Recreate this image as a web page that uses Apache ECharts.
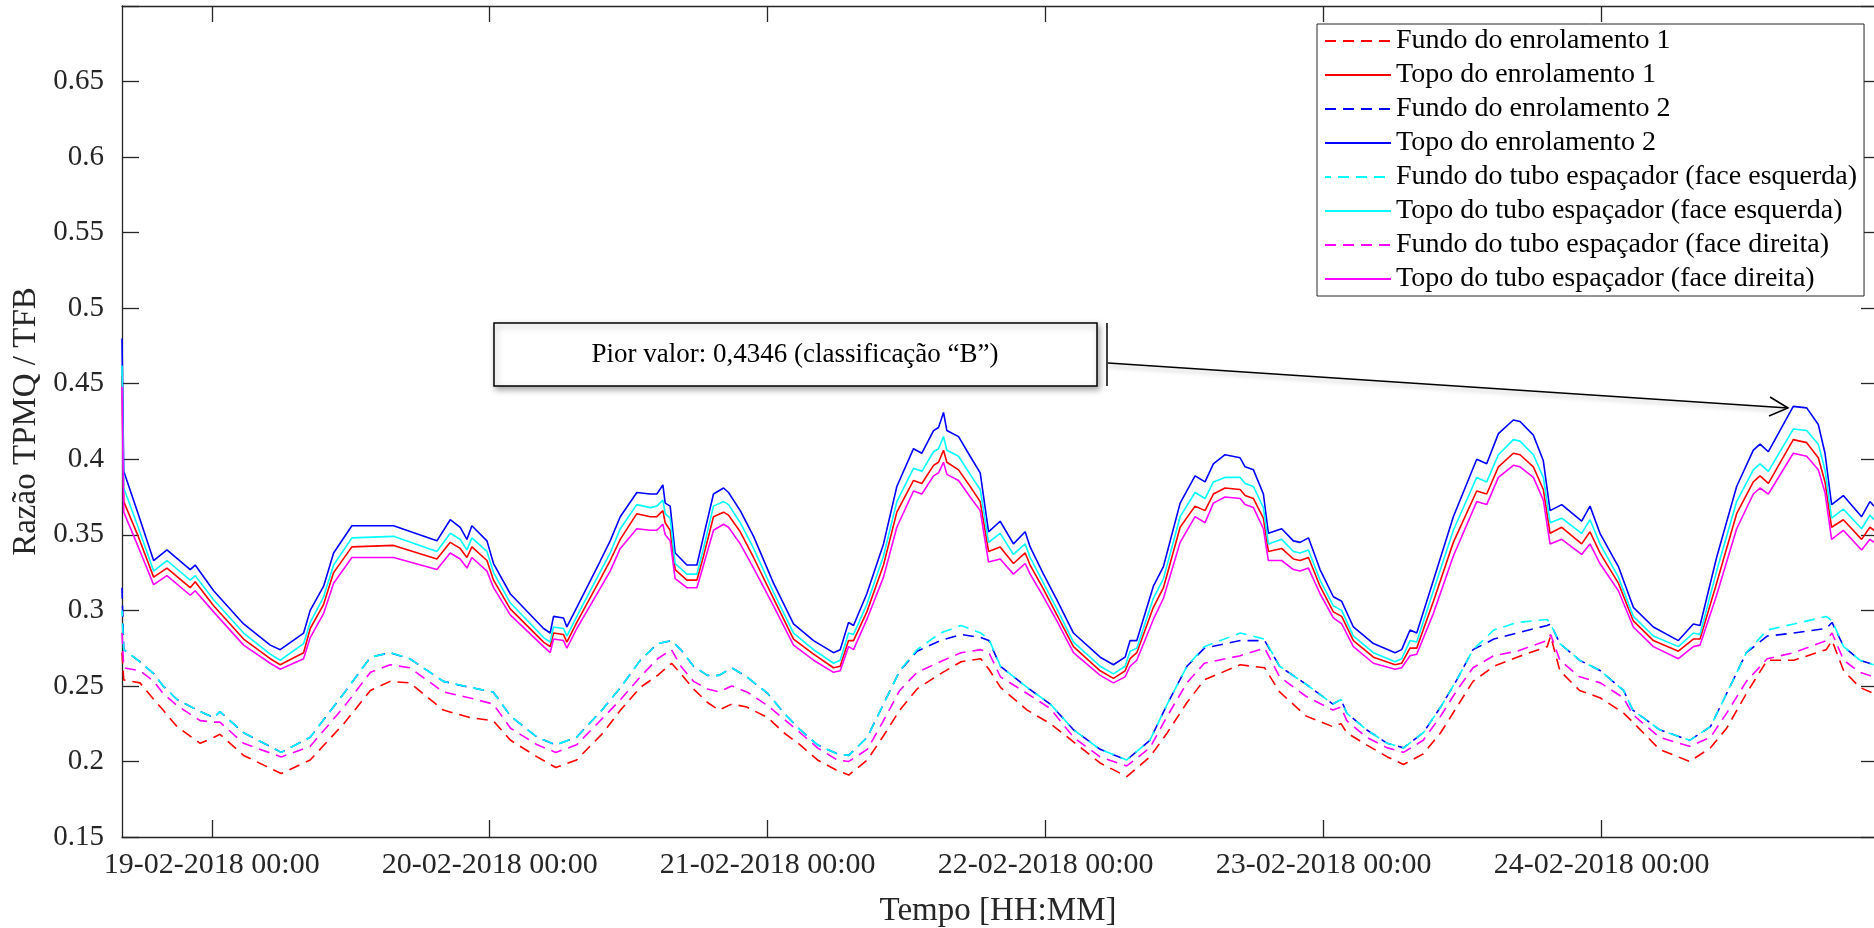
<!DOCTYPE html>
<html><head><meta charset="utf-8">
<script src="https://cdn.jsdelivr.net/npm/echarts@6/dist/echarts.min.js"></script>
<style>html,body{margin:0;padding:0;background:#fff}#c{width:1874px;height:928px}</style>
</head><body><div id="c"></div>
<script>
// ---- data (x in hours from 19-02-2018 00:00) ----
const tickHours = [0, 24, 48, 72, 96, 120];
const tickLabels = ['19-02-2018 00:00','20-02-2018 00:00','21-02-2018 00:00','22-02-2018 00:00','23-02-2018 00:00','24-02-2018 00:00'];
const seriesNames = ['Fundo do enrolamento 1','Topo do enrolamento 1','Fundo do enrolamento 2','Topo do enrolamento 2','Fundo do tubo espaçador (face esquerda)','Topo do tubo espaçador (face esquerda)','Fundo do tubo espaçador (face direita)','Topo do tubo espaçador (face direita)'];

const solidHours = [-7.75,-7.6,-6.4,-5.02,-3.87,-1.86,-1.43,0.16,2.75,5.05,5.91,7.93,8.5,9.66,10.52,12.1,15.7,19.44,20.59,21.45,22.03,22.46,23.76,24.33,25.77,28.65,29.22,29.51,30.37,30.66,31.52,33.5,34.4,35.27,36.7,37.86,38.43,38.95,39.15,39.58,40.01,41.02,41.89,42.46,43.32,44.19,44.62,45.63,46.78,48.5,50.23,51.96,53.68,54.26,54.98,55.41,56.56,58,59.15,60.59,61.31,62.32,62.75,63.18,63.47,64.48,65.48,66.35,67.07,68.07,69.22,70.23,70.66,71.81,72.97,74.4,76.71,77.85,78.86,79.29,79.87,81.3,82.17,83.61,84.9,85.76,86.48,87.49,88.79,89.22,89.94,90.8,91.23,92.38,93.39,93.97,94.69,95.69,96.84,97.56,98.57,100.3,102.17,102.74,103.46,104.04,105.48,107.2,109.22,110.08,111.09,112.38,112.96,114.11,114.97,115.55,116.56,118.28,119,119.86,121.45,122.74,124.47,126.63,127.92,128.5,129.93,131.66,133.1,133.68,134.4,136.55,137.71,138.71,139.29,139.86,140.87,142.45,143.17,143.52];

const topoEnrol2 = [.480,.392,.365,.333,.340,.327,.330,.313,.291,.277,.274,.285,.300,.316,.338,.356,.356,.346,.360,.355,.347,.356,.346,.331,.311,.288,.285,.296,.295,.289,.302,.332,.346,.362,.378,.377,.377,.383,.371,.369,.338,.330,.330,.349,.377,.381,.378,.366,.349,.318,.291,.280,.272,.274,.292,.290,.311,.344,.382,.407,.404,.419,.421,.431,.419,.415,.402,.391,.352,.359,.344,.352,.342,.324,.307,.285,.269,.264,.269,.280,.280,.316,.329,.371,.389,.385,.397,.403,.401,.395,.393,.377,.351,.354,.346,.345,.348,.327,.309,.306,.289,.278,.272,.274,.287,.285,.320,.362,.400,.397,.417,.426,.425,.416,.399,.366,.370,.359,.369,.351,.329,.302,.289,.280,.291,.290,.335,.382,.406,.410,.405,.435,.434,.423,.404,.370,.376,.362,.372,.369];
const topoTuboEsq = [.462,.381,.356,.326,.333,.320,.323,.307,.285,.271,.267,.278,.292,.309,.330,.348,.349,.339,.351,.347,.340,.348,.339,.325,.305,.282,.279,.289,.288,.283,.296,.325,.338,.354,.370,.368,.369,.373,.364,.361,.331,.324,.324,.341,.369,.372,.370,.358,.341,.312,.285,.274,.265,.267,.285,.284,.304,.336,.372,.394,.392,.405,.407,.415,.406,.402,.390,.380,.345,.351,.337,.344,.335,.318,.301,.279,.263,.258,.263,.273,.275,.308,.321,.362,.378,.374,.385,.388,.388,.384,.382,.368,.344,.347,.339,.338,.340,.320,.303,.300,.283,.272,.266,.268,.280,.279,.313,.353,.388,.385,.403,.413,.412,.403,.388,.358,.361,.351,.360,.344,.322,.296,.283,.276,.285,.284,.326,.372,.393,.397,.392,.420,.419,.410,.393,.361,.367,.354,.363,.360];
const topoEnrol1 = [.455,.372,.350,.322,.328,.315,.319,.303,.281,.268,.264,.272,.288,.304,.325,.342,.343,.334,.345,.341,.335,.342,.333,.320,.301,.279,.276,.285,.284,.279,.292,.320,.333,.347,.364,.362,.362,.366,.358,.353,.327,.320,.320,.336,.362,.365,.363,.352,.335,.308,.281,.271,.262,.263,.280,.280,.299,.330,.365,.386,.384,.396,.398,.406,.398,.393,.382,.372,.339,.342,.331,.338,.330,.314,.297,.276,.260,.255,.260,.268,.272,.302,.315,.355,.369,.366,.377,.381,.380,.376,.374,.361,.339,.341,.334,.333,.335,.316,.299,.296,.280,.269,.264,.265,.275,.275,.306,.345,.379,.377,.395,.404,.403,.395,.380,.351,.355,.344,.352,.338,.318,.293,.280,.273,.281,.281,.318,.364,.385,.389,.384,.413,.411,.401,.385,.355,.360,.347,.355,.353];
const topoTuboDir = [.448,.365,.343,.317,.323,.310,.313,.299,.277,.265,.261,.268,.282,.298,.318,.335,.335,.327,.338,.334,.328,.335,.326,.315,.297,.276,.272,.281,.280,.275,.288,.314,.326,.341,.354,.353,.353,.357,.350,.346,.321,.315,.315,.330,.353,.357,.355,.344,.328,.303,.277,.267,.259,.260,.276,.274,.294,.322,.355,.379,.377,.389,.391,.398,.390,.386,.375,.366,.332,.334,.324,.331,.324,.309,.293,.272,.257,.252,.256,.263,.267,.294,.308,.345,.362,.358,.371,.375,.374,.370,.368,.354,.333,.333,.327,.326,.328,.311,.295,.291,.276,.265,.261,.262,.270,.271,.298,.336,.372,.370,.388,.396,.395,.388,.373,.344,.347,.337,.344,.331,.313,.289,.276,.268,.276,.277,.310,.354,.377,.381,.377,.404,.402,.393,.378,.347,.353,.340,.347,.345];

const dashedHours = [-7.75,-7.6,-6.2,-5,-4.2,-3,-1,0.2,0.7,2.75,6,8.5,11.4,13.7,15.4,17.1,20,22.3,24.3,25.8,28.1,29.7,31.5,33.8,35.3,37,38.5,39.7,40.5,41.6,42.8,43.8,44.9,46.2,48,49.4,50.8,52.3,54,55,56.6,58,59.4,60.9,62.9,64.7,66.4,67.1,68.1,70.4,72.4,74.4,76.7,79,81,82.5,84.2,85.7,88.8,90.9,92.2,94.5,96.8,97.5,98,99.7,101.5,102.9,104.6,106.1,107.5,108.9,110.7,112.7,115.3,115.6,116.4,118.1,119.9,121.9,122.7,125,127.6,129.4,130.8,132.5,134.3,136.6,139.4,139.9,140.9,142.3,143.5];
const fundoEnrol2 = [.315,.274,.266,.258,.250,.241,.233,.229,.233,.219,.206,.216,.245,.269,.272,.268,.253,.249,.246,.230,.216,.211,.216,.235,.249,.267,.278,.280,.274,.263,.257,.257,.262,.256,.245,.232,.221,.211,.205,.204,.216,.238,.260,.273,.280,.284,.282,.280,.263,.249,.238,.221,.208,.201,.214,.238,.263,.275,.280,.280,.263,.251,.238,.241,.232,.221,.212,.209,.219,.236,.254,.274,.281,.285,.290,.291,.278,.267,.260,.247,.234,.221,.214,.223,.245,.272,.283,.285,.288,.292,.276,.267,.264];
const fundoTuboEsq = [.300,.274,.266,.258,.250,.241,.233,.229,.233,.219,.206,.216,.245,.269,.272,.268,.253,.249,.246,.230,.216,.211,.216,.235,.249,.267,.278,.280,.274,.263,.257,.257,.262,.256,.245,.232,.221,.211,.205,.204,.216,.238,.260,.274,.285,.290,.285,.281,.263,.249,.238,.221,.208,.201,.214,.238,.263,.276,.285,.281,.263,.251,.238,.241,.232,.221,.212,.209,.219,.236,.254,.274,.287,.292,.294,.291,.278,.267,.260,.247,.234,.221,.214,.223,.245,.272,.287,.291,.296,.293,.276,.267,.264];
const fundoTuboDir = [.285,.262,.260,.253,.245,.237,.227,.226,.226,.212,.203,.210,.236,.259,.264,.262,.246,.242,.238,.222,.211,.206,.211,.229,.241,.256,.268,.274,.263,.253,.248,.246,.250,.246,.237,.228,.219,.209,.201,.200,.208,.227,.247,.259,.266,.272,.274,.272,.256,.245,.235,.216,.203,.197,.209,.230,.252,.265,.270,.275,.256,.243,.234,.236,.227,.216,.209,.206,.214,.230,.247,.262,.270,.273,.280,.284,.267,.256,.252,.242,.231,.216,.210,.216,.232,.253,.268,.272,.280,.285,.267,.259,.256];
const fundoEnrol1 = [.272,.254,.252,.241,.234,.223,.212,.216,.218,.204,.192,.201,.225,.247,.253,.252,.234,.229,.227,.214,.203,.196,.201,.219,.234,.249,.257,.265,.258,.248,.239,.234,.238,.236,.229,.219,.211,.201,.194,.191,.201,.217,.234,.248,.258,.266,.268,.261,.249,.234,.225,.213,.199,.190,.203,.219,.239,.254,.264,.262,.246,.230,.223,.225,.219,.211,.203,.198,.205,.219,.236,.253,.263,.269,.276,.283,.260,.247,.242,.232,.226,.208,.200,.209,.222,.245,.267,.267,.274,.280,.260,.249,.245];

const annotText = 'Pior valor: 0,4346 (classificação “B”)';

// ---- chart ----
const FONT = 'Liberation Serif';
const AX = '#262626';
const pairs = (xs, ys) => xs.map((x, i) => [x, ys[i]]);
const DASH = [11, 7];
function mk(name, xs, ys, color, dashed, offset) {
  return {
    name, type: 'line', data: pairs(xs, ys), symbol: 'none', showSymbol: false,
    color, lineStyle: { color, width: 1.6, type: dashed ? DASH : 'solid', dashOffset: offset || 0 },
    emphasis: { disabled: true }, animation: false
  };
}
const series = [
  mk(seriesNames[0], dashedHours, fundoEnrol1, '#ff0000', true),
  mk(seriesNames[1], solidHours, topoEnrol1, '#ff0000', false),
  mk(seriesNames[2], dashedHours, fundoEnrol2, '#0000ff', true),
  mk(seriesNames[3], solidHours, topoEnrol2, '#0000ff', false),
  mk(seriesNames[4], dashedHours, fundoTuboEsq, '#00ffff', true, 5),
  mk(seriesNames[5], solidHours, topoTuboEsq, '#00ffff', false),
  mk(seriesNames[6], dashedHours, fundoTuboDir, '#ff00ff', true),
  mk(seriesNames[7], solidHours, topoTuboDir, '#ff00ff', false)
];

const xMin = -7.75, xMax = 143.52;
const TICK = { color: AX, width: 1.3 };
const chart = echarts.init(document.getElementById('c'));
chart.setOption({
  animation: false,
  backgroundColor: '#fff',
  grid: { left: 122, right: 0, top: 6, bottom: 91, containLabel: false, outerBoundsMode: 'none' },
  legend: {
    orient: 'vertical', left: 1317, top: 24, data: seriesNames,
    padding: [0, 7, 0, 7], itemGap: 0, itemWidth: 66, itemHeight: 2,
    itemStyle: { opacity: 0 },
    borderColor: AX, borderWidth: 1, backgroundColor: '#fff',
    textStyle: { fontFamily: FONT, fontSize: 28, color: '#000', lineHeight: 34 },
    selectedMode: false, z: 20
  },
  xAxis: [{
    type: 'value', min: xMin, max: xMax,
    axisLine: { show: true, onZero: false, lineStyle: { color: AX, width: 1.3 } },
    axisTick: { show: true, inside: true, length: 17, customValues: tickHours, lineStyle: TICK },
    axisLabel: { customValues: tickHours, formatter: v => { const i = tickHours.indexOf(Math.round(v)); return i >= 0 ? tickLabels[i] : ''; },
      fontFamily: FONT, fontSize: 30, color: AX, margin: 13 },
    splitLine: { show: false },
    name: 'Tempo [HH:MM]', nameLocation: 'middle', nameGap: 58,
    nameTextStyle: { fontFamily: FONT, fontSize: 33, color: AX }
  }, {
    type: 'value', min: xMin, max: xMax, position: 'top',
    axisLine: { show: true, onZero: false, lineStyle: { color: AX, width: 1.3 } },
    axisTick: { show: true, inside: true, length: 16, customValues: tickHours, lineStyle: TICK },
    axisLabel: { show: false }, splitLine: { show: false }
  }],
  yAxis: [{
    type: 'value', min: 0.15, max: 0.7, interval: 0.05, position: 'left',
    axisLine: { show: true, onZero: false, lineStyle: { color: AX, width: 1.3 } },
    axisTick: { show: true, inside: true, length: 17, lineStyle: TICK },
    axisLabel: { formatter: v => (v > 0.69 ? '' : String(+v.toFixed(2))), fontFamily: FONT, fontSize: 29, color: AX, margin: 18 },
    splitLine: { show: false },
    name: 'Razão TPMQ / TFB', nameLocation: 'middle', nameGap: 62,
    nameTextStyle: { fontFamily: FONT, fontSize: 33, color: AX }
  }, {
    type: 'value', min: 0.15, max: 0.7, interval: 0.05, position: 'right',
    axisLine: { show: false, onZero: false },
    axisTick: { show: true, inside: true, length: 13, lineStyle: TICK },
    axisLabel: { show: false }, splitLine: { show: false }
  }],
  series,
  graphic: [
    { type: 'rect', z: 100, shape: { x: 494, y: 323, width: 603, height: 63 },
      style: { fill: '#fff', stroke: '#000', lineWidth: 1.5, shadowBlur: 6, shadowOffsetX: 2, shadowOffsetY: 3, shadowColor: 'rgba(0,0,0,0.35)' } },
    { type: 'text', z: 101, x: 795, y: 355,
      style: { text: annotText, fontFamily: FONT, fontSize: 27, fill: '#000', align: 'center', verticalAlign: 'middle' } },
    { type: 'line', z: 100, shape: { x1: 1107, y1: 323, x2: 1107, y2: 386 }, style: { stroke: '#000', lineWidth: 1.5 } },
    { type: 'line', z: 100, shape: { x1: 1108, y1: 363, x2: 1788, y2: 408 },
      style: { stroke: '#000', lineWidth: 1.5, shadowBlur: 4, shadowOffsetY: 3, shadowColor: 'rgba(0,0,0,0.25)' } },
    { type: 'polyline', z: 100, shape: { points: [[1770, 397], [1788, 408], [1769, 416]] },
      style: { stroke: '#000', fill: null, lineWidth: 1.5 } }
  ]
});
</script>
</body></html>
